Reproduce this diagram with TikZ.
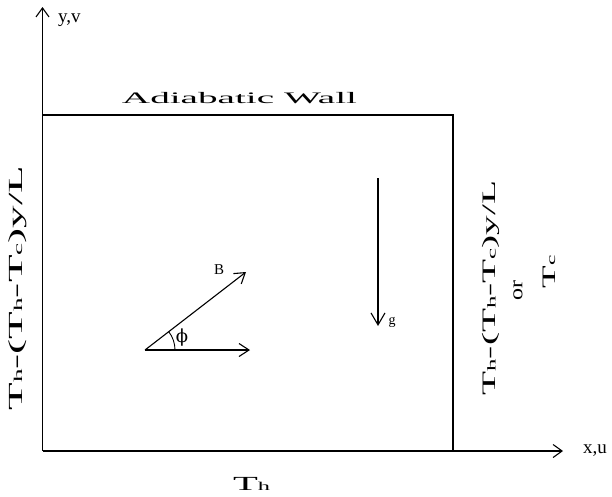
\documentclass[tikz,border=0pt]{standalone}
\usepackage{fontspec}
\setmainfont{Liberation Serif}
\newfontfamily\dvserif{DejaVu Serif}
\usepackage{graphicx}
\usetikzlibrary{arrows.meta}
\tikzset{
  axis/.style={line width=1.3pt, -{Straight Barb[length=9pt,width=13pt,line width=1.1pt]}},
  vec/.style={line width=1.1pt, -{Straight Barb[length=10pt,width=13pt,line width=1.1pt]}},
  wall/.style={line width=1.1pt},
  lbl/.style={inner sep=0pt, font=\fontsize{19}{21}\selectfont},
}
\newcommand{\sm}[1]{{\fontsize{12}{13}\selectfont #1}}
\begin{document}
\begin{tikzpicture}[x=1pt,y=-1pt]
\useasboundingbox (0,0) rectangle (612,496);
% corners
\coordinate (O) at (42.5,451);
\coordinate (Ytip) at (42.5,7);
\coordinate (Xtip) at (563,451);
\coordinate (TL) at (42.5,115);
\coordinate (TR) at (453,115);
\coordinate (BR) at (453,451);
% box
\draw[wall] (TL) -- (TR) -- (BR);
% axes
\draw[axis] (O) -- (Ytip);
\draw[axis] (O) -- (Xtip);
\node[lbl, anchor=west] (yv) at (58,20) {y,v};
\node[lbl, anchor=west] (xu) at (583,451) {x,u};
% top label
\node[inner sep=0pt] (adia) at (239.5,98) {\resizebox{235pt}{\height}{\fontsize{16}{17}\selectfont Adiabatic Wall}};
% bottom label
\node[inner sep=0pt] (bot) at (251.5,484) {\resizebox{37pt}{\height}{\fontsize{20}{21}\selectfont T\sm{h}}};
% left label
\node[inner sep=0pt, rotate=90] (left) at (18,288) {\resizebox{245pt}{\height}{\fontsize{20}{21}\selectfont T\sm{h}-(T\sm{h}-T\sm{c})y/L}};
% right labels
\node[inner sep=0pt, rotate=90] (right1) at (491,288) {\resizebox{215pt}{\height}{\fontsize{19}{20}\selectfont T\sm{h}-(T\sm{h}-T\sm{c})y/L}};
\node[inner sep=0pt, rotate=90] (right2) at (518,290) {\resizebox{20pt}{\height}{\fontsize{19}{20}\selectfont or}};
\node[inner sep=0pt, rotate=90] (right3) at (549,272) {\resizebox{33pt}{\height}{\fontsize{19}{20}\selectfont T\sm{c}}};
% vectors
\coordinate (P) at (145,350);
\coordinate (Bt) at (246,272);
\coordinate (Ht) at (250,350);
\draw[vec] (P) -- (Bt);
\draw[vec] (P) -- (Ht);
\draw[line width=0.9pt] ([shift={(30,0)}]P) arc[start angle=0, end angle=-37.7, radius=30];
\node[inner sep=0pt, font=\dvserif\fontsize{18}{19}\selectfont] (phi) at (182,338) {ϕ};
\node[inner sep=0pt, font=\fontsize{15}{16}\selectfont] (B) at (219,270) {B};
% gravity
\coordinate (G1) at (378,178);
\coordinate (G2) at (378,326);
\draw[line width=1.1pt, -{Straight Barb[length=12pt,width=14pt,line width=1.1pt]}] (G1) -- (G2);
\node[inner sep=0pt, font=\fontsize{14}{15}\selectfont] (g) at (392,322) {g};
\end{tikzpicture}
\end{document}
